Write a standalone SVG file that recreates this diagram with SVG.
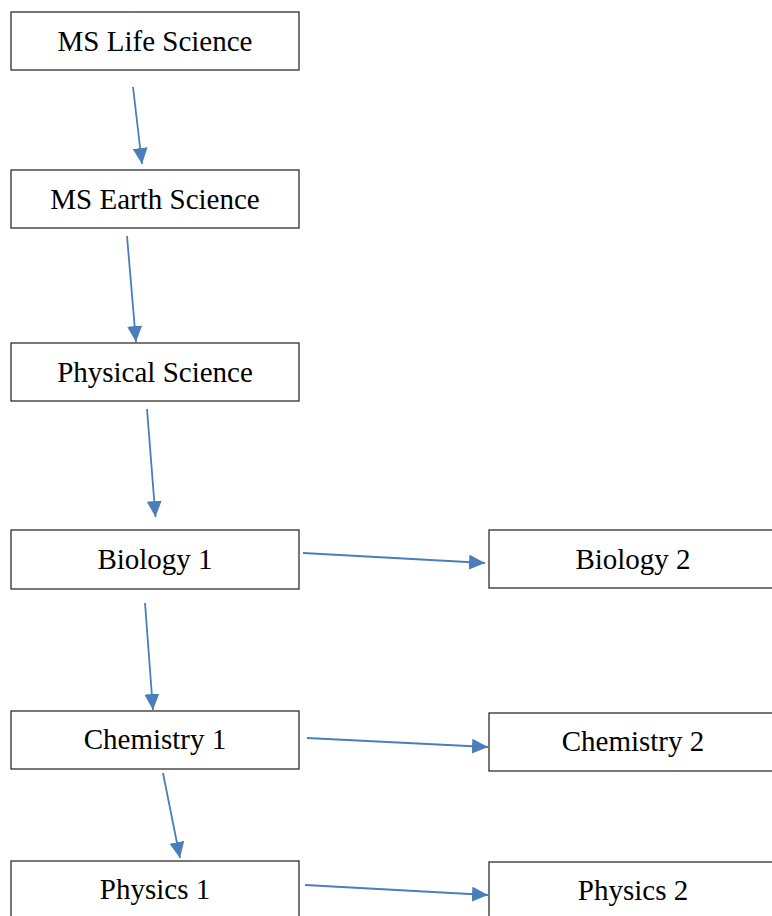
<svg xmlns="http://www.w3.org/2000/svg" width="772" height="916" viewBox="0 0 772 916">
<style>
.box{fill:#fff;stroke:#2e2e2e;stroke-width:1.3}
.lbl{font-family:"Liberation Serif","Times New Roman",serif;font-size:29px;fill:#000;text-anchor:middle}
.conn{stroke:#4a7ebb;stroke-width:1.8;fill:none;marker-end:url(#ah)}
</style>
<defs>
<marker id="ah" markerUnits="userSpaceOnUse" markerWidth="18" markerHeight="16" refX="16" refY="7.5" orient="auto">
<path d="M0,0 L16,7.5 L0,15 Z" fill="#4a7ebb"/>
</marker>
</defs>
<rect width="772" height="916" fill="#fff"/>
<g id="n1"><rect class="box" x="11" y="12" width="288" height="58"/><text class="lbl" x="155" y="51">MS Life Science</text></g>
<g id="n2"><rect class="box" x="11" y="170" width="288" height="58"/><text class="lbl" x="155" y="209">MS Earth Science</text></g>
<g id="n3"><rect class="box" x="11" y="343" width="288" height="58"/><text class="lbl" x="155" y="382">Physical Science</text></g>
<g id="n4"><rect class="box" x="11" y="530" width="288" height="59"/><text class="lbl" x="155" y="569">Biology 1</text></g>
<g id="n5"><rect class="box" x="11" y="711" width="288" height="58"/><text class="lbl" x="155" y="749">Chemistry 1</text></g>
<g id="n6"><rect class="box" x="11" y="861" width="288" height="70"/><text class="lbl" x="155" y="899">Physics 1</text></g>
<g id="n7"><rect class="box" x="489" y="530" width="288" height="58"/><text class="lbl" x="633" y="569">Biology 2</text></g>
<g id="n8"><rect class="box" x="489" y="713" width="288" height="58"/><text class="lbl" x="633" y="751">Chemistry 2</text></g>
<g id="n9"><rect class="box" x="489" y="862" width="288" height="70"/><text class="lbl" x="633" y="900">Physics 2</text></g>
<g id="connectors">
<line class="conn" x1="133" y1="87" x2="142" y2="164"/>
<line class="conn" x1="127" y1="236" x2="136" y2="342"/>
<line class="conn" x1="147" y1="409" x2="155.5" y2="517"/>
<line class="conn" x1="145" y1="603" x2="153" y2="710"/>
<line class="conn" x1="163" y1="773" x2="180" y2="858"/>
<line class="conn" x1="303" y1="553" x2="485" y2="563"/>
<line class="conn" x1="307" y1="738" x2="488" y2="747"/>
<line class="conn" x1="305" y1="885" x2="488" y2="895"/>
</g>
</svg>
